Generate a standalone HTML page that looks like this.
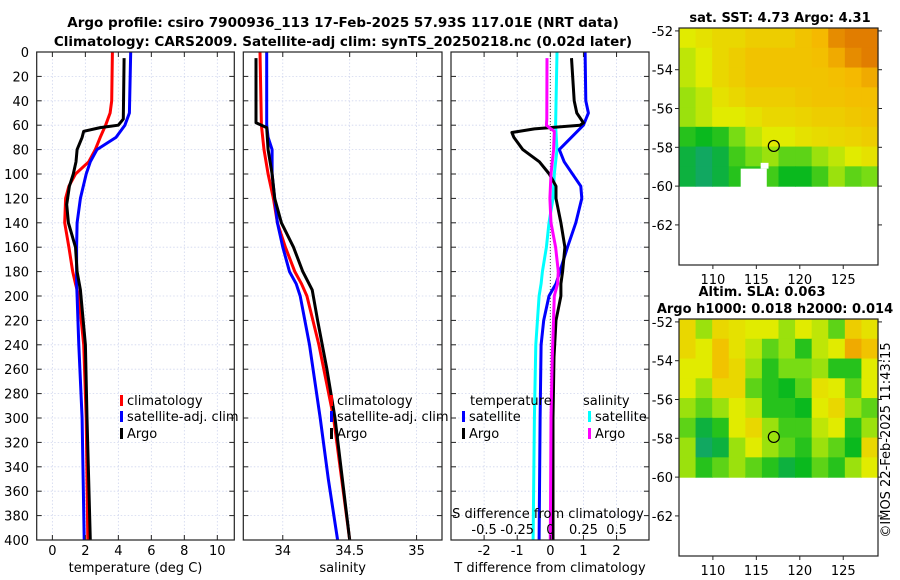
<!DOCTYPE html>
<html><head><meta charset="utf-8"><style>
html,body{margin:0;padding:0;background:#fff}
svg{display:block;font-family:"DejaVu Sans","Liberation Sans",sans-serif}
</style></head><body>
<svg id="fig" width="900" height="580" viewBox="0 0 900 580" xmlns="http://www.w3.org/2000/svg">
<g font-weight="bold" font-size="13.5" text-anchor="middle">
<text x="343" y="27">Argo profile: csiro 7900936_113 17-Feb-2025 57.93S 117.01E (NRT data)</text>
<text x="343" y="46">Climatology: CARS2009. Satellite-adj clim: synTS_20250218.nc (0.02d later)</text>
</g>
<g id="p1"></g>
<g id="p2"></g>
<g id="p3"></g>
<g id="m1"></g>
<g id="m2"></g>
<text font-size="13" transform="translate(890,440) rotate(-90)" text-anchor="middle">©IMOS 22-Feb-2025 11:43:15</text>
</svg>
<script>
// ---- data ----
const depthTicks=[0,20,40,60,80,100,120,140,160,180,200,220,240,260,280,300,320,340,360,380,400];
const tTicks=[0,2,4,6,8,10];
const sTicks=[34,34.5,35];
const sTickLabels=["34","34.5","35"];
const dTTicks=[-2,-1,0,1,2];
const dSTicks=[-0.5,-0.25,0,0.25,0.5];
const dSTickLabels=["-0.5","-0.25","0","0.25","0.5"];
const tClimDepth=[0,40,50,60,70,80,90,100,110,120,140,160,180,190,200,240,300,400];
const tClimVal=[3.64,3.6,3.5,3.23,2.9,2.6,2.2,1.4,1.0,0.8,0.75,1.0,1.23,1.4,1.6,1.9,2.05,2.15];
const tSatDepth=[0,50,60,70,80,90,100,120,140,160,190,200,240,300,400];
const tSatVal=[4.75,4.67,4.4,3.86,2.7,2.3,2.05,1.7,1.5,1.47,1.47,1.5,1.6,1.8,1.93];
const tArgoDepth=[5,55,60,62,65,70,80,90,100,110,125,140,160,180,195,240,300,400];
const tArgoVal=[4.35,4.3,4.0,2.9,1.9,1.8,1.5,1.43,1.27,1.03,0.87,0.97,1.4,1.5,1.7,2.0,2.1,2.3];
const sClimDepth=[0,60,80,100,120,140,160,180,190,200,240,300,400];
const sClimVal=[33.83,33.84,33.86,33.89,33.93,33.96,34.02,34.09,34.14,34.18,34.27,34.38,34.5];
const sSatDepth=[0,60,70,80,100,120,140,160,180,190,200,240,300,350,400];
const sSatVal=[33.88,33.88,33.89,33.92,33.92,33.94,33.96,34.0,34.05,34.1,34.13,34.2,34.28,34.34,34.41];
const sArgoDepth=[5,58,62,80,100,120,140,160,180,195,220,260,300,400];
const sArgoVal=[33.8,33.8,33.88,33.89,33.92,33.94,33.99,34.08,34.15,34.22,34.26,34.33,34.39,34.5];
const dTSatDepth=[0,40,50,60,80,90,110,120,140,160,190,200,220,240,300,400];
const dTSatVal=[1.05,1.07,1.15,1.0,0.27,0.42,0.92,0.95,0.77,0.52,0.17,-0.04,-0.2,-0.28,-0.31,-0.34];
const dTArgoDepth=[5,40,50,58,60,63,66,70,80,90,100,110,120,140,160,180,190,200,220,250,300,400];
const dTArgoVal=[0.64,0.72,0.8,1.0,0.9,-0.48,-1.16,-1.1,-0.83,-0.33,-0.03,0.17,0.17,0.32,0.44,0.37,0.32,0.32,0.17,0.11,0.08,0.08];
const dSSatDepth=[0,60,80,100,120,140,160,180,190,200,240,300,400];
const dSSatVal=[0.05,0.04,0.05,0.03,0.02,-0.01,-0.03,-0.06,-0.07,-0.085,-0.11,-0.12,-0.13];
const dSArgoDepth=[5,55,60,63,65,80,100,120,140,160,180,190,200,250,300,400];
const dSArgoVal=[-0.025,-0.027,-0.03,0.005,0.03,0.025,0.005,-0.003,0.005,0.04,0.06,0.055,0.03,0.015,0.005,0.0];
const mapLonTicks=[110,115,120,125];
const mapLatTicks=[-52,-54,-56,-58,-60,-62];
const sstGrid=[
[.5,.55,.6,.6,.65,.65,.65,.7,.75,.9,.95,.95],
[.45,.5,.6,.65,.7,.7,.7,.7,.72,.8,.9,.95],
[.45,.5,.6,.65,.7,.7,.7,.7,.7,.72,.75,.8],
[.4,.45,.55,.6,.65,.65,.65,.68,.7,.7,.72,.72],
[.4,.45,.5,.5,.55,.6,.6,.62,.65,.65,.68,.7],
[.2,.15,.2,.35,.45,.5,.5,.55,.58,.6,.62,.65],
[.1,.05,.1,.25,.35,.4,.3,.3,.4,.45,.5,.55],
[.1,.05,.1,.2,.2,.25,.15,.15,.25,.4,.3,.35]];
const slaGrid=[
[.6,.4,.6,.55,.5,.5,.4,.5,.45,.3,.65,.55],
[.6,.5,.7,.55,.45,.3,.4,.2,.45,.5,.8,.7],
[.5,.5,.7,.6,.4,.2,.35,.35,.4,.2,.2,.5],
[.5,.4,.6,.6,.3,.2,.15,.3,.55,.5,.3,.5],
[.4,.3,.4,.5,.45,.2,.2,.15,.5,.6,.4,.3],
[.3,.1,.2,.5,.6,.4,.25,.25,.45,.5,.2,.4],
[.4,.05,.1,.4,.5,.4,.3,.2,.4,.3,.15,.6],
[.4,.2,.3,.4,.3,.2,.1,.15,.3,.2,.4,.5]];
const argoLon=117.01, argoLat=-57.93;

// ---- helpers ----
const NS="http://www.w3.org/2000/svg";
function el(tag,attrs,parent){const e=document.createElementNS(NS,tag);for(const k in attrs)e.setAttribute(k,attrs[k]);parent.appendChild(e);return e;}
const PY0=52,PY1=540;
const yD=d=>PY0+(PY1-PY0)*d/400;

function panel(g,x0,x1,vmin,vmax){
  const sx=v=>x0+(x1-x0)*(v-vmin)/(vmax-vmin);
  return sx;
}
function gridAndBox(g,x0,x1,xs){
  depthTicks.forEach(d=>{const l=el('line',{x1:x0,x2:x1,y1:yD(d),y2:yD(d),stroke:'#d0d6ee','stroke-width':0.8,'stroke-dasharray':'1.5,2'},g);
    });
  xs.forEach(x=>{const l=el('line',{x1:x,x2:x,y1:PY0,y2:PY1,stroke:'#d0d6ee','stroke-width':0.8,'stroke-dasharray':'1.5,2'},g);
    });
}
function box(g,x0,x1,xs){
  const r=el('rect',{x:x0,y:PY0,width:x1-x0,height:PY1-PY0,fill:'none',stroke:'#222','stroke-width':1.2},g);
  
  depthTicks.forEach(d=>{el('line',{x1:x0,x2:x0+5,y1:yD(d),y2:yD(d),stroke:'#222'},g);el('line',{x1:x1,x2:x1-5,y1:yD(d),y2:yD(d),stroke:'#222'},g);});
  xs.forEach(x=>{el('line',{x1:x,x2:x,y1:PY1,y2:PY1-5,stroke:'#222'},g);el('line',{x1:x,x2:x,y1:PY0,y2:PY0+5,stroke:'#222'},g);});
}
function line(g,sx,ds,vs,color,name){
  const pts=ds.map((d,i)=>sx(vs[i]).toFixed(1)+','+yD(d).toFixed(1)).join(' ');
  const p=el('polyline',{points:pts,fill:'none',stroke:color,'stroke-width':3,'stroke-linejoin':'round'},g);
  
}
function txt(g,x,y,s,attrs,name){const t=el('text',Object.assign({x:x,y:y,'font-size':13},attrs||{}),g);t.textContent=s;
  return t;}
function legend(g,x,y,color,label){
  const b=el('rect',{x:x,y:y-10,width:3,height:11,fill:color},g);
  
  txt(g,x+7,y,label,{},'legend-entry');
}

// Panel 1: temperature
{const g=document.getElementById('p1');const x0=36.7,x1=234.3;const sx=panel(g,x0,x1,-0.95,11.03);
 gridAndBox(g,x0,x1,tTicks.map(sx));
 line(g,sx,tClimDepth,tClimVal,'#f00','temp-climatology-line');
 line(g,sx,tSatDepth,tSatVal,'#00f','temp-satellite-line');
 line(g,sx,tArgoDepth,tArgoVal,'#000','temp-argo-line');
 box(g,x0,x1,tTicks.map(sx));
 depthTicks.forEach(d=>txt(g,29,yD(d)+5,String(d),{'text-anchor':'end'},'y-tick-label'));
 tTicks.forEach(t=>txt(g,sx(t),555,String(t),{'text-anchor':'middle'},'x-tick-label'));
 txt(g,(x0+x1)/2,572,'temperature (deg C)',{'text-anchor':'middle'},'x-axis-title');
 legend(g,120,405,'#f00','climatology');legend(g,120,421,'#00f','satellite-adj. clim');legend(g,120,438,'#000','Argo');
}
// Panel 2: salinity
{const g=document.getElementById('p2');const x0=243.3,x1=442;const sx=panel(g,x0,x1,33.705,35.19);
 gridAndBox(g,x0,x1,sTicks.map(sx));
 line(g,sx,sClimDepth,sClimVal,'#f00','sal-climatology-line');
 line(g,sx,sSatDepth,sSatVal,'#00f','sal-satellite-line');
 line(g,sx,sArgoDepth,sArgoVal,'#000','sal-argo-line');
 box(g,x0,x1,sTicks.map(sx));
 sTicks.forEach((t,i)=>txt(g,sx(t),555,sTickLabels[i],{'text-anchor':'middle'},'x-tick-label'));
 txt(g,(x0+x1)/2,572,'salinity',{'text-anchor':'middle'},'x-axis-title');
 legend(g,330,405,'#f00','climatology');legend(g,330,421,'#00f','satellite-adj. clim');legend(g,330,438,'#000','Argo');
}
// Panel 3: differences
{const g=document.getElementById('p3');const x0=451,x1=649;const sx=panel(g,x0,x1,-3.0,2.98);const ss=v=>sx(v*4);
 gridAndBox(g,x0,x1,dTTicks.map(sx));
 const z=el('line',{x1:sx(0),x2:sx(0),y1:PY0,y2:PY1,stroke:'#555','stroke-width':1,'stroke-dasharray':'1,2'},g);
 
 line(g,ss,dSSatDepth,dSSatVal,'#00ffff','sdiff-satellite-line');
 line(g,sx,dTSatDepth,dTSatVal,'#00f','tdiff-satellite-line');
 line(g,sx,dTArgoDepth,dTArgoVal,'#000','tdiff-argo-line');
 line(g,ss,dSArgoDepth,dSArgoVal,'#ff00ff','sdiff-argo-line');
 box(g,x0,x1,dTTicks.map(sx));
 dTTicks.forEach(t=>txt(g,sx(t),555,String(t),{'text-anchor':'middle'},'x-tick-label'));
 txt(g,(x0+x1)/2,572,'T difference from climatology',{'text-anchor':'middle'},'x-axis-title');
 txt(g,548,518,'S difference from climatology',{'text-anchor':'middle'},'s-axis-title');
 dSTicks.forEach((t,i)=>txt(g,ss(t),534,dSTickLabels[i],{'text-anchor':'middle'},'s-tick-label'));
 txt(g,470,405,'temperature',{},'legend-heading');txt(g,583,405,'salinity',{},'legend-heading');
 legend(g,462,421,'#00f','satellite');legend(g,462,438,'#000','Argo');
 legend(g,588,421,'#00ffff','satellite');legend(g,588,438,'#ff00ff','Argo');
}
// Maps
function cmap(v){
  const st=[[0,[20,160,130]],[0.15,[10,185,30]],[0.35,[120,220,20]],[0.5,[225,235,0]],[0.75,[245,185,0]],[1,[220,110,0]]];
  for(let i=1;i<st.length;i++){if(v<=st[i][0]){const a=st[i-1],b=st[i],f=(v-a[0])/(b[0]-a[0]);
    return 'rgb('+a[1].map((c,j)=>Math.round(c+(b[1][j]-c)*f)).join(',')+')';}}
  return 'rgb(220,110,0)';
}
function drawMap(g,top,bottom,grid,title,holes){
  const L=679,R=878,lon0=106.1,lon1=129.0;const lat0=-51.85,latScale=19.4;
  const mx=lon=>L+(R-L)*(lon-lon0)/(lon1-lon0);
  const my=lat=>top+(lat0-lat)*latScale;
  const rows=grid.length,cols=grid[0].length;const cw=(R-L)/cols,ch=(my(-60)-top)/rows;
  grid.forEach((row,r)=>row.forEach((v,c)=>{
    const e=el('rect',{x:L+c*cw,y:top+r*ch,width:cw+0.6,height:ch+0.6,fill:cmap(v)},g);
    }));
  (holes||[]).forEach(h=>{el('rect',{x:mx(h[0]),y:my(h[1]),width:mx(h[2])-mx(h[0]),height:my(h[3])-my(h[1]),fill:'#fff'},g);});
  const c=el('circle',{cx:mx(argoLon),cy:my(argoLat),r:5.5,fill:'none',stroke:'#000','stroke-width':1.2},g);
  
  const f=el('rect',{x:L,y:top,width:R-L,height:bottom-top,fill:'none',stroke:'#222','stroke-width':1.2},g);
  
  mapLatTicks.forEach(la=>{el('line',{x1:L-4,x2:L,y1:my(la),y2:my(la),stroke:'#222'},g);el('line',{x1:R,x2:R+4,y1:my(la),y2:my(la),stroke:'#222'},g);
    txt(g,L-6,my(la)+5,String(la),{'text-anchor':'end'},'map-lat-label');});
  mapLonTicks.forEach(lo=>{el('line',{x1:mx(lo),x2:mx(lo),y1:bottom,y2:bottom+4,stroke:'#222'},g);
    txt(g,mx(lo),bottom+19,String(lo),{'text-anchor':'middle'},'map-lon-label');});
  title.forEach(t=>txt(g,t[0],t[1],t[2],{'text-anchor':'middle','font-weight':'bold'},'map-title'));
}
drawMap(document.getElementById('m1'),28,265,sstGrid,[[780,22,'sat. SST: 4.73 Argo: 4.31']],[[113.2,-59.1,116.2,-60.1],[115.5,-58.8,116.4,-59.1]]);
drawMap(document.getElementById('m2'),319,556,slaGrid,[[762,296,'Altim. SLA: 0.063'],[775,313,'Argo h1000: 0.018 h2000: 0.014']],[]);
</script>
</body></html>
